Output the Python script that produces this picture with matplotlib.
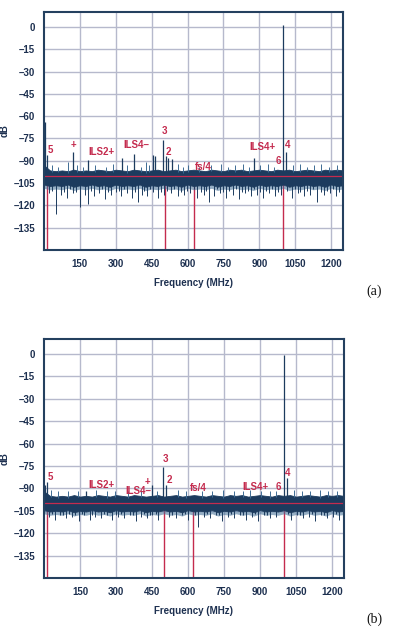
import numpy as np
import matplotlib
matplotlib.use("Agg")
import matplotlib.pyplot as plt

# ---------------- data ----------------
x_ticks = [150, 300, 450, 600, 750, 900, 1050, 1200]
x_ticklabels = ["150", "300", "450", "600", "750", "900", "1050", "1200"]
y_ticks = [0, -15, -30, -45, -60, -75, -90, -105, -120, -135]
y_ticklabels = ["0", "–15", "–30", "–45", "–60", "–75", "–90", "–105", "–120", "–135"]

# panel (a) noise band envelope (0..1250 MHz, evenly spaced)
a_band_hi = [-93, -96.5, -97, -96.5, -97, -96, -97, -96.5, -97, -96, -96.5, -97, -96,
             -96.5, -97, -96, -96.5, -97, -96.5, -96, -97, -96.5, -96, -97, -96.5, -96,
             -96.5, -97, -96, -96.5, -97, -96, -96.5, -96, -97, -96.5, -96, -96.5, -97,
             -96, -96.5, -96, -97, -96.5, -96, -96.5, -97, -96, -96.5, -96, -96.5]
a_band_lo = [-106, -107, -106.5, -107, -106, -107.5, -106.5, -107, -106, -107, -106.5,
             -107.5, -106, -107, -106.5, -107, -106, -107.5, -106.5, -107, -106, -107,
             -106.5, -107.5, -106, -107, -106.5, -107, -106, -107.5, -106.5, -107, -106,
             -107, -106.5, -107.5, -106, -107, -106.5, -107, -106, -107.5, -106.5, -107,
             -106, -107, -106.5, -107.5, -106, -107, -106.5]
a_dip_f = [20, 49, 70, 95, 120, 150, 172, 186, 210, 232, 255, 280, 300, 322, 345, 368,
           395, 410, 432, 455, 478, 500, 530, 560, 585, 612, 640, 668, 689, 710, 735,
           760, 790, 815, 840, 865, 890, 915, 940, 965, 990, 1035, 1060, 1085, 1110,
           1143, 1170, 1195, 1220, 1245, 33, 82, 108, 135, 198, 243, 268, 312, 333, 380,
           420, 445, 490, 515, 545, 572, 598, 625, 655, 678, 722, 748, 775, 802, 828,
           852, 878, 903, 928, 952, 978, 1015, 1048, 1072, 1098, 1125, 1158, 1182, 1208, 1233]
a_dip_db = [-112, -126, -113, -115, -112, -121, -113, -119, -114, -112, -116, -113, -111,
            -114, -112, -115, -117.5, -113, -114, -111, -115, -113, -112, -114, -113, -112,
            -115, -113, -118, -114, -112, -115, -113, -116, -112, -114, -113, -115, -112,
            -114, -113, -115, -112, -114, -113, -117.5, -113, -112, -114, -113, -110, -111,
            -109, -111, -110, -109, -111, -110, -109, -111, -110, -109, -111, -110, -109,
            -111, -110, -109, -111, -110, -109, -111, -110, -109, -111, -110, -109, -111,
            -110, -109, -111, -110, -109, -111, -110, -109, -111, -110, -109, -111]
a_bump_f = [35, 60, 100, 140, 165, 215, 260, 290, 345, 405, 425, 440, 560, 580, 600, 650,
            700, 740, 770, 800, 830, 855, 905, 935, 960, 1040, 1070, 1100, 1130, 1160,
            1190, 1225]
a_bump_db = [-93, -94, -91, -93, -94, -93, -94, -92, -93, -94, -91, -93, -92, -94, -93,
             -94, -93, -92, -94, -93, -92, -94, -93, -92, -94, -93, -92, -94, -93, -92,
             -94, -93]
a_spur_f = [3, 11, 122, 185, 327, 375, 455, 466, 498, 508, 520, 536, 880, 999, 1011]
a_spur_db = [-64, -86, -84, -89.5, -88, -85.6, -86, -87, -76, -87, -88, -88.5, -88, 1, -84]
a_marker_f = [11, 505, 625, 998]
a_labels = ["5", "+", "ILS2+", "ILS4–", "3", "2", "fs/4", "ILS4+", "4", "6"]
a_label_f = [25, 123, 239, 388, 505, 522, 668, 913, 1017, 978]
a_label_db = [-83, -79.5, -84, -79.5, -70, -84, -94, -81, -79.5, -90]

# panel (b)
b_band_hi = [-92, -95, -95.5, -95, -95.5, -94.5, -95.5, -95, -95.5, -94.5, -95, -95.5,
             -94.5, -95, -95.5, -94.5, -95, -95.5, -95, -94.5, -95.5, -95, -94.5, -95.5,
             -95, -94.5, -95, -95.5, -94.5, -95, -95.5, -94.5, -95, -94.5, -95.5, -95,
             -94.5, -95, -95.5, -94.5, -95, -94.5, -95.5, -95, -94.5, -95, -95.5, -94.5,
             -95, -94.5, -95]
b_band_lo = [-104.5, -105.5, -105, -105.5, -104.5, -106, -105, -105.5, -104.5, -105.5,
             -105, -106, -104.5, -105.5, -105, -105.5, -104.5, -106, -105, -105.5, -104.5,
             -105.5, -105, -106, -104.5, -105.5, -105, -105.5, -104.5, -106, -105, -105.5,
             -104.5, -105.5, -105, -106, -104.5, -105.5, -105, -105.5, -104.5, -106, -105,
             -105.5, -104.5, -105.5, -105, -106, -104.5, -105.5, -105]
b_dip_f = [22, 45, 68, 92, 118, 145, 168, 190, 212, 238, 262, 285, 310, 335, 358, 382,
           405, 428, 452, 476, 520, 548, 575, 600, 641, 665, 690, 715, 740, 765, 790,
           815, 840, 865, 890, 915, 940, 965, 1030, 1055, 1080, 1105, 1130, 1155, 1180,
           1205, 1230, 33, 80, 105, 130, 157, 200, 250, 298, 322, 370, 415, 440, 465,
           535, 588, 628, 678, 728, 778, 828, 878, 928, 1018, 1068, 1118, 1168, 1218]
b_dip_db = [-109, -111, -108, -110, -109, -112, -108, -111, -109, -110, -108, -111, -109,
            -110, -108, -112, -109, -110, -108, -111, -109, -110, -108, -111, -116, -109,
            -110, -108, -112, -109, -110, -108, -111, -109, -112, -108, -110, -109, -111,
            -108, -110, -109, -112, -108, -110, -109, -111, -107, -108, -107, -108, -107,
            -108, -107, -108, -107, -108, -107, -108, -107, -108, -107, -108, -107, -108,
            -107, -108, -107, -108, -107, -108, -107, -108, -107]
b_bump_f = [30, 58, 100, 140, 215, 262, 295, 350, 405, 470, 560, 590, 660, 700, 745,
            790, 830, 860, 905, 940, 965, 1040, 1075, 1110, 1150, 1185, 1220]
b_bump_db = [-91, -92, -91.5, -92, -91, -92, -91.5, -92, -91, -92, -91, -92, -91.5, -92,
             -91, -92, -91.5, -91, -92, -91.5, -92, -91, -92, -91.5, -91, -92, -91.5]
b_spur_f = [3, 14, 174, 452, 497, 508, 998, 1011]
b_spur_db = [-88, -86, -91.7, -88, -75.5, -88, -0.5, -83]
b_marker_f = [14, 502, 622, 998]
b_labels = ["5", "ILS2+", "ILS4–", "+", "3", "2", "fs/4", "ILS4+", "6", "4"]
b_label_f = [28, 241, 391, 431, 507, 522, 644, 880, 975, 1014]
b_label_db = [-82.6, -87.7, -92, -85.5, -70.5, -84.4, -90, -89.3, -89.3, -80]

noise_floor_db = -100
x_range = (0, 1250)
y_range = (-150, 10)

# ---------------- style ----------------
NAVY = "#1c3b5e"
NAVY_LIGHT = "#3f6c94"
RED = "#c42b4e"
GRID = "#b6b9cc"
SPINE = "#24405f"
TEXT = "#1d3050"
FONT = "Liberation Sans"

fig = plt.figure(figsize=(3.93, 6.36), dpi=100)

def panel(rect, hi, lo, dip_f, dip_db, bump_f, bump_db, spur_f, spur_db,
          marker_f, labels, label_f, label_db):
    ax = fig.add_axes(rect)
    ax.set_xlim(*x_range)
    ax.set_ylim(*y_range)
    ax.set_xticks(x_ticks)
    ax.set_xticklabels(x_ticklabels)
    ax.set_yticks(y_ticks)
    ax.set_yticklabels(y_ticklabels)
    ax.tick_params(length=0, pad=6.5, labelsize=7, colors=TEXT)
    for t in ax.get_xticklabels() + ax.get_yticklabels():
        t.set_fontfamily(FONT)
        t.set_fontweight("bold")
    ax.grid(True, color=GRID, lw=1.0, zorder=0)
    ax.set_axisbelow(True)
    for s in ax.spines.values():
        s.set_color(SPINE)
        s.set_linewidth(1.5)
        s.set_zorder(6)

    # red marker lines
    ax.vlines(marker_f, y_range[0], noise_floor_db, color=RED, lw=1.0, zorder=2)

    fh = np.linspace(x_range[0], x_range[1], len(hi))
    fl = np.linspace(x_range[0], x_range[1], len(lo))
    lo_on_hi = np.interp(fh, fl, lo)
    # lighter fringe under the core band
    ax.fill_between(fh, lo_on_hi - 2.5, lo_on_hi, color=NAVY_LIGHT, alpha=0.55,
                    lw=0, zorder=3)
    ax.fill_between(fh, lo_on_hi, hi, color=NAVY, lw=0.6, edgecolor=NAVY, zorder=3)
    # downward dips
    base_lo = np.interp(dip_f, fl, lo)
    ax.vlines(dip_f, dip_db, base_lo + 2, color=NAVY, lw=0.7, zorder=3)
    # upward small bumps
    base_hi = np.interp(bump_f, fh, hi)
    ax.vlines(bump_f, base_hi - 1, bump_db, color=NAVY_LIGHT, lw=0.7, zorder=3)
    # tall spurs
    base_sp = np.interp(spur_f, fh, hi)
    ax.vlines(spur_f, base_sp - 1, spur_db, color=NAVY, lw=0.9, zorder=3)

    ax.axhline(noise_floor_db, color=RED, lw=0.9, zorder=4)

    for txt, f, d in zip(labels, label_f, label_db):
        ax.text(f, d, txt, color=RED, fontsize=7, fontweight="bold",
                fontfamily=FONT, ha="center", va="center", zorder=7)
    return ax

W, H = 393.0, 636.0
rect_a = [44 / W, 1 - 250 / H, (343 - 44) / W, (250 - 12) / H]
rect_b = [44 / W, 1 - 578 / H, (344 - 44) / W, (578 - 339) / H]

panel(rect_a, a_band_hi, a_band_lo, a_dip_f, a_dip_db, a_bump_f, a_bump_db,
      a_spur_f, a_spur_db, a_marker_f, a_labels, a_label_f, a_label_db)
panel(rect_b, b_band_hi, b_band_lo, b_dip_f, b_dip_db, b_bump_f, b_bump_db,
      b_spur_f, b_spur_db, b_marker_f, b_labels, b_label_f, b_label_db)

for top_px, bot_px, xl_px, tag, tag_px in [(12, 250, 283.5, "(a)", 291.5),
                                            (339, 578, 611.5, "(b)", 619.5)]:
    fig.text(193.5 / W, 1 - xl_px / H, "Frequency (MHz)", ha="center", va="center",
             fontsize=7, fontweight="bold", fontfamily=FONT, color=TEXT)
    fig.text(4.5 / W, 1 - (top_px + bot_px) / 2 / H, "dB", rotation=90, ha="center",
             va="center", fontsize=7, fontweight="bold", fontfamily=FONT, color=TEXT)
    fig.text(374 / W, 1 - tag_px / H, tag, ha="center", va="center", fontsize=10,
             fontfamily="Liberation Serif", color="#111111")

fig.savefig("out.png", dpi=100)
